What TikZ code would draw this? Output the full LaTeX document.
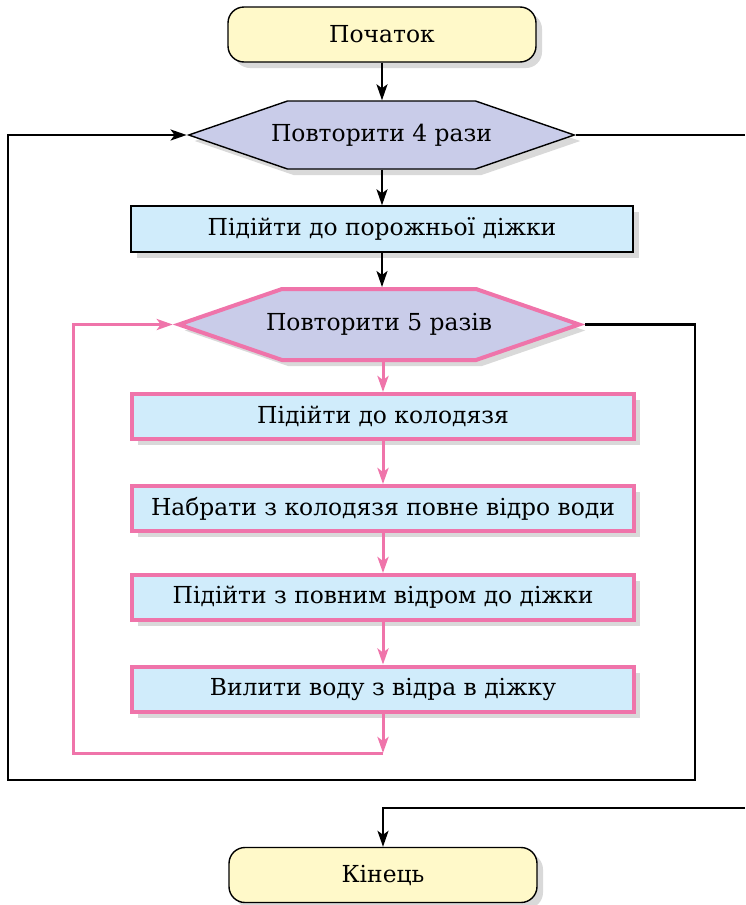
\documentclass[tikz,border=0pt]{standalone}
\usepackage{fontspec}
\setmainfont{DejaVu Serif}
\usepackage{tikz}
\usepackage{xcolor}
\usetikzlibrary{shapes.symbols}
\usetikzlibrary{shadows}
\usetikzlibrary{arrows.meta}

\definecolor{startyellow}{HTML}{FFF9C9}
\definecolor{loopviolet}{HTML}{C9CCE9}
\definecolor{stepblue}{HTML}{D0ECFB}
\definecolor{looppink}{HTML}{EF74AA}

% Text of a loop node may run past the flat top of the hexagon
\newcommand{\looptext}[2]{\makebox[#1][c]{#2}}

\tikzset{
    boxshadow/.style={drop shadow={shadow xshift=3pt, shadow yshift=-3pt, opacity=0.25, fill=black!60}},
    terminal/.style={draw, line width=0.7pt, fill=startyellow, rounded corners=8pt, minimum width=154pt, minimum height=27.5pt, boxshadow},
    outerloop/.style={signal, signal to=west and east, signal pointer angle=38, draw, line width=0.7pt, fill=loopviolet, minimum height=34pt, inner sep=0pt, boxshadow},
    innerloop/.style={signal, signal to=west and east, signal pointer angle=38, draw=looppink, line width=2pt, fill=loopviolet, minimum height=35.5pt, inner sep=0pt, boxshadow},
    blackstep/.style={draw, line width=0.7pt, fill=stepblue, minimum width=251pt, minimum height=23pt, boxshadow},
    pinkstep/.style={draw=looppink, line width=2pt, fill=stepblue, minimum width=251pt, minimum height=22.5pt, boxshadow},
    arr/.style={line width=1.1pt, -{Stealth[length=8pt, width=5.5pt, inset=2pt]}},
    line/.style={line width=1.1pt},
    parr/.style={looppink, line width=1.5pt, -{Stealth[length=8pt, width=5.5pt, inset=2pt]}},
    pline/.style={looppink, line width=1.5pt}
}

\begin{document}
\begin{tikzpicture}[x=0.5pt, y=-0.5pt, font=\fontsize{11.7}{14}\selectfont]
    % Fix the page to the size of the reference (745 x 905)
    \useasboundingbox (0, 0) rectangle (745, 905);

    % Start and the outer loop
    \node[terminal] (start) at (382, 34.5) {Початок};
    \node[outerloop] (rep1) at (381.5, 135) {\looptext{94pt}{Повторити 4 рази}};
    \node[blackstep] (fill1) at (382, 229) {Підійти до порожньої діжки};

    % Inner loop and its body
    \node[innerloop] (rep2) at (379, 324.5) {\looptext{97pt}{Повторити 5 разів}};
    \node[pinkstep] (b1) at (383, 416.5) {Підійти до колодязя};
    \node[pinkstep] (b2) at (383, 508.5) {Набрати з колодязя повне відро води};
    \node[pinkstep] (b3) at (383, 597.5) {Підійти з повним відром до діжки};
    \node[pinkstep] (b4) at (383, 689) {Вилити воду з відра в діжку};

    % End
    \node[terminal] (end) at (383, 875) {Кінець};

    % Corners of the loop lines
    \coordinate (innerend) at (383, 753);
    \coordinate (innerleft) at (73, 753);
    \coordinate (outerright) at (695, 780);
    \coordinate (outerleft) at (8, 780);
    \coordinate (exitout) at (745, 135);
    \coordinate (exitin) at (745, 808);

    % Black connectors
    \draw[arr] (start.south -| fill1) -- (fill1 |- rep1.north);
    \draw[arr] (rep1.south -| fill1) -- (fill1);
    \draw[arr] (fill1.south) -- (fill1.south |- rep2.north);
    \draw[arr] (rep2.east) -| (outerright) -- (outerleft) |- (rep1.west);
    \draw[line] (rep1.east) -- (exitout);
    \draw[arr] (exitin) -| (end.north);

    % Pink connectors
    \draw[parr] (rep2.south -| b1) -- (b1);
    \draw[parr] (b1) -- (b2);
    \draw[parr] (b2) -- (b3);
    \draw[parr] (b3) -- (b4);
    \draw[parr] (b4) -- (innerend);
    \draw[parr] (innerend) -- (innerleft) |- (rep2.west);
\end{tikzpicture}
\end{document}
